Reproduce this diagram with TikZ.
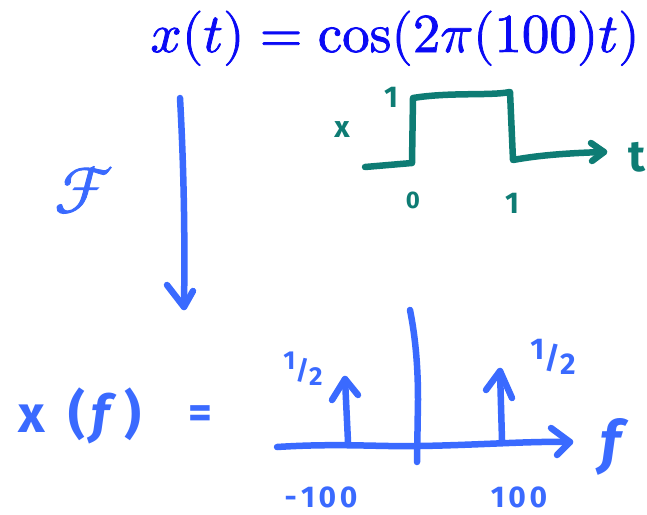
\documentclass[tikz,border=0pt]{standalone}
\usepackage{fontspec}
\usepackage{unicode-math}
\setmathfont{Latin Modern Math}[FakeBold=1.4]
\setsansfont{Fira Sans}
\definecolor{pen}{RGB}{58,106,255}
\definecolor{tealpen}{RGB}{14,124,116}
\definecolor{ttl}{RGB}{10,10,245}
\begin{document}
\begin{tikzpicture}[x=1pt,y=-1pt,
  bstroke/.style={draw=pen,line width=6.5pt,line cap=round,line join=round},
  tstroke/.style={draw=tealpen,line width=6.5pt,line cap=round,line join=round},
  hand/.style={font=\sffamily\bfseries,inner sep=0pt},
  bl/.style={hand,text=pen},
  tl/.style={hand,text=tealpen}]
\useasboundingbox (0,0) rectangle (647,514);
% title
\node[anchor=base,text=ttl,inner sep=0pt] (title) at (395,52) {\fontsize{55}{60}\selectfont $x(t)=\mathop{\symup{cos}}\nolimits(2\pi(100)t)$};
% transform arrow
\coordinate (ftop) at (180,98);
\coordinate (fbot) at (184,307);
\draw[bstroke] (ftop) .. controls (184,170) and (185,240) .. (fbot);
\draw[bstroke] (167,285) -- (fbot) -- (193,291);
\node[text=pen,inner sep=0pt] (calF) at (84,190) {\fontsize{66}{66}\selectfont $\mathcal{F}$};
% teal rectangular pulse
\coordinate (t0) at (365,167);
\coordinate (tend) at (604,152);
\draw[tstroke] (t0) -- (412,163) -- (413,98) .. controls (450,92) and (490,96) .. (510,92) -- (513,160) .. controls (540,155) and (570,153) .. (tend);
\draw[tstroke] (591,143) -- (tend) -- (592,161);
\node[tl] (tx) at (342,130) {\fontsize{30}{30}\selectfont x};
\node[tl] (tone) at (391,97) {\fontsize{30}{30}\selectfont 1};
\node[tl] (tzero) at (413,200) {\fontsize{24}{24}\selectfont 0};
\node[tl] (tone2) at (512,203) {\fontsize{30}{30}\selectfont 1};
\node[tl] (tt) at (637,157) {\fontsize{44}{44}\selectfont t};
% spectrum
\coordinate (fa0) at (277,447);
\coordinate (fa1) at (570,442);
\draw[bstroke] (fa0) .. controls (340,443) and (380,447) .. (420,446) .. controls (480,445) and (530,441) .. (fa1);
\draw[bstroke] (551,428) -- (fa1) -- (557,455);
\coordinate (vtop) at (410,310);
\coordinate (vbot) at (417,462);
\draw[bstroke] (vtop) .. controls (416,340) and (418,370) .. (418,400) -- (vbot);
\coordinate (lb) at (348,442);
\coordinate (lt) at (345,379);
\draw[bstroke] (lb) -- (lt);
\draw[bstroke] (332,400) -- (lt) -- (358,395);
\coordinate (rb) at (502,440);
\coordinate (rt) at (500,371);
\draw[bstroke] (rb) -- (rt);
\draw[bstroke] (486,390) -- (rt) -- (512,398);
\node[bl] (xf) at (80,416) {\fontsize{52}{52}\selectfont x\hspace{0.45em}(\kern0.12em\textit{f}\kern0.15em)};
\node[bl] (eq) at (200,417) {\fontsize{46}{46}\selectfont =};
\node[bl] (hl) at (303,369) {\fontsize{26}{26}\selectfont \raisebox{0.35em}{1}/\raisebox{-0.25em}{2}};
\node[bl] (hr) at (553,357) {\fontsize{30}{30}\selectfont \raisebox{0.3em}{1}/\raisebox{-0.2em}{2}};
\node[bl] (ml) at (321,497) {\fontsize{30}{30}\selectfont -\kern0.15em1\kern0.12em0\kern0.12em0};
\node[bl] (pl) at (519,497) {\fontsize{30}{30}\selectfont 1\kern0.12em0\kern0.12em0};
\node[bl] (ff) at (615,447) {\fontsize{58}{58}\selectfont \textit{f}};
\end{tikzpicture}
\end{document}
